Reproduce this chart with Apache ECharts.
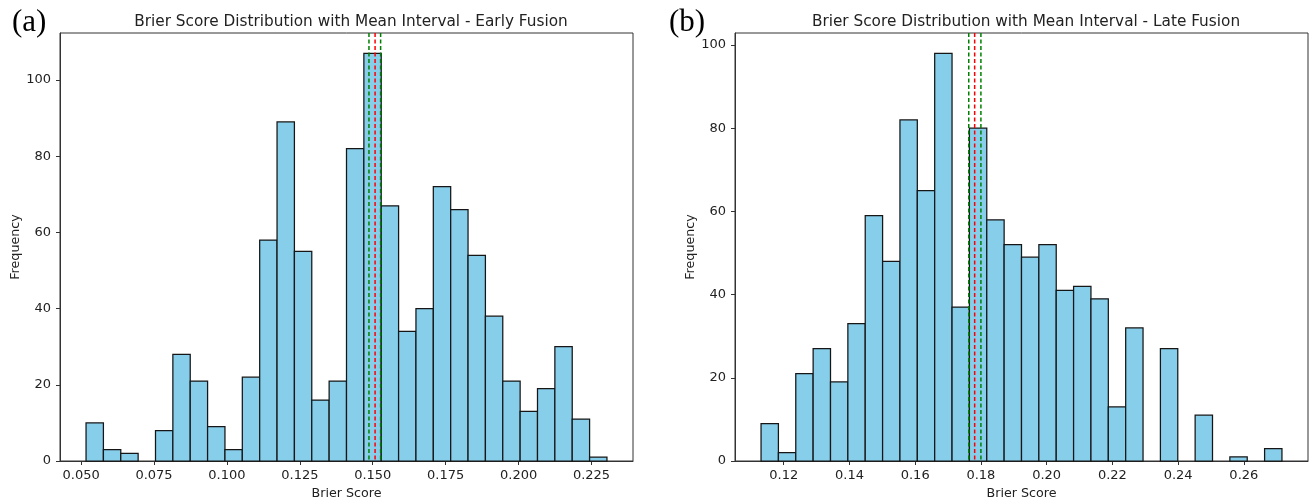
<!DOCTYPE html>
<html><head><meta charset="utf-8">
<script src="https://cdn.jsdelivr.net/npm/echarts@6/dist/echarts.min.js"></script>
<style>html,body{margin:0;padding:0;background:#fff}#c{width:1312px;height:502px}</style>
</head><body><div id="c"></div>
<script>
// ---- data ----
const countsEarly = [10,3,2,0,8,28,21,9,3,22,58,89,55,16,21,82,107,67,34,40,72,66,54,38,21,13,19,30,11,1];
const binRangeEarly = [0.0517, 0.2303];
const meanEarly = 0.1508;
const ciEarly = [0.1487, 0.1527];

const countsLate = [9,2,21,27,19,33,59,48,82,65,98,37,80,58,52,49,52,41,42,39,13,32,0,27,0,11,0,1,0,3];
const binRangeLate = [0.1131, 0.2716];
const meanLate = 0.1781;
const ciLate = [0.1763, 0.1800];

const xTicksEarly = [0.050,0.075,0.100,0.125,0.150,0.175,0.200,0.225];
const xTicksLate = [0.12,0.14,0.16,0.18,0.20,0.22,0.24,0.26];
const yTicks = [0,20,40,60,80,100];
const titles = ['Brier Score Distribution with Mean Interval - Early Fusion','Brier Score Distribution with Mean Interval - Late Fusion'];
const panelLabels = ['(a)','(b)'];
const xName = 'Brier Score';
const yName = 'Frequency';

// ---- build histogram bins (equal-width, as a histogram does) ----
function bins(counts, range){
  const w = (range[1]-range[0])/counts.length;
  return counts.map((c,i)=>[range[0]+i*w, range[0]+(i+1)*w, c]);
}
function xExtent(range){ const m=(range[1]-range[0])*0.05; return [range[0]-m, range[1]+m]; }

const chart = echarts.init(document.getElementById('c'));
const font = 'DejaVu Sans';
const txt = '#222';

function xAxisCfg(idx, range, ticks, dec){
  const e = xExtent(range);
  return {
    type:'value', gridIndex: idx, min: e[0], max: e[1],
    name: xName, nameLocation:'middle', nameGap: 25,
    nameTextStyle:{fontFamily:font, fontSize:12.7, color:txt},
    axisLine:{show:true, onZero:false, lineStyle:{color:'#333', width:1}},
    axisTick:{show:true, length:4, lineStyle:{color:'#333'}, customValues: ticks},
    axisLabel:{fontFamily:font, fontSize:13, color:txt, margin:8, customValues: ticks,
      formatter: v => v.toFixed(dec)},
    splitLine:{show:false}
  };
}
function yAxisCfg(idx, counts){
  return {
    type:'value', gridIndex: idx, min:0, max: Math.max(...counts)*1.05,
    name: yName, nameLocation:'middle', nameGap: 38, nameRotate: 90,
    nameTextStyle:{fontFamily:font, fontSize:12.7, color:txt},
    axisLine:{show:true, lineStyle:{color:'#333', width:1}},
    axisTick:{show:true, length:4, lineStyle:{color:'#333'}, customValues: yTicks},
    axisLabel:{fontFamily:font, fontSize:13, color:txt, margin:9, customValues: yTicks},
    splitLine:{show:false}
  };
}
function histSeries(idx, counts, range){
  return {
    type:'custom', xAxisIndex: idx, yAxisIndex: idx, z: 2,
    data: bins(counts, range),
    encode:{x:[0,1], y:2},
    renderItem:(params, api)=>{
      const c = api.value(2);
      if (!c) return null;
      const p0 = api.coord([api.value(0), c]);
      const p1 = api.coord([api.value(1), 0]);
      return {type:'rect', shape:{x:p0[0], y:p0[1], width:p1[0]-p0[0], height:p1[1]-p0[1]},
        style:{fill:'#87CEEB', stroke:'#161616', lineWidth:1.25}};
    }
  };
}
const lineColors = ['green','red','green'];
function meanSeries(idx, mean, ci){
  return {
    type:'custom', xAxisIndex: idx, yAxisIndex: idx, z: 5, silent:true,
    data: [[ci[0], 0], [mean, 1], [ci[1], 2]],
    encode:{x:0},
    renderItem:(params, api)=>{
      const cs = params.coordSys;
      const p = api.coord([api.value(0), 0]);
      return {type:'line', shape:{x1:p[0], y1:cs.y, x2:p[0], y2:cs.y+cs.height},
        style:{stroke: lineColors[api.value(1)], lineWidth:1.5, lineDash:[4,2.5]}};
    }
  };
}

const grids = [
  {left:60, top:33, width:573, height:428, show:true, borderColor:'#333', borderWidth:1, containLabel:false, outerBoundsMode:'none'},
  {left:735, top:33, width:573, height:428, show:true, borderColor:'#333', borderWidth:1, containLabel:false, outerBoundsMode:'none'}
];

chart.setOption({
  animation:false,
  backgroundColor:'#fff',
  title:[
    {text:titles[0], left:346, top:10, textAlign:'center', textStyle:{fontFamily:font, fontSize:15.3, fontWeight:'normal', color:txt}},
    {text:titles[1], left:1021, top:10, textAlign:'center', textStyle:{fontFamily:font, fontSize:15.3, fontWeight:'normal', color:txt}},
    {text:panelLabels[0], left:7, top:2, textStyle:{fontFamily:'Liberation Serif', fontSize:31, fontWeight:'normal', color:'#000'}},
    {text:panelLabels[1], left:664, top:2, textStyle:{fontFamily:'Liberation Serif', fontSize:31, fontWeight:'normal', color:'#000'}}
  ],
  grid: grids,
  xAxis:[xAxisCfg(0, binRangeEarly, xTicksEarly, 3), xAxisCfg(1, binRangeLate, xTicksLate, 2)],
  yAxis:[yAxisCfg(0, countsEarly), yAxisCfg(1, countsLate)],
  series:[
    histSeries(0, countsEarly, binRangeEarly),
    histSeries(1, countsLate, binRangeLate),
    meanSeries(0, meanEarly, ciEarly),
    meanSeries(1, meanLate, ciLate)
  ]
});
</script></body></html>
